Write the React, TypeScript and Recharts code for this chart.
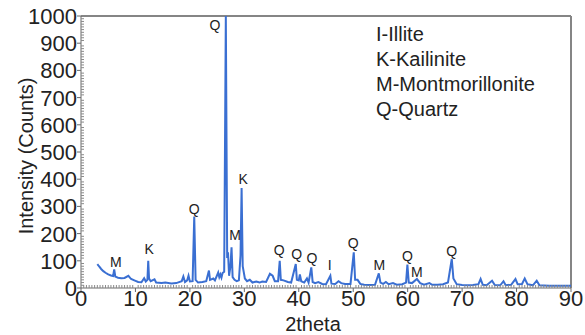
import { LineChart, Line, XAxis, YAxis, ReferenceLine, ReferenceDot } from "recharts";

// XRD pattern
const twoTheta = [
  3.0, 3.3, 3.7, 4.1, 4.5, 5.0, 5.5, 5.9, 6.1, 6.3, 6.8, 7.4, 8.0, 8.7, 9.2, 9.9, 10.5, 11.1, 11.6, 11.9,
  12.2, 12.35, 12.5, 12.8, 13.5, 13.8, 14.8, 15.5, 16.6, 17.5, 18.5, 18.8, 19.1, 19.5, 19.75, 20.0, 20.5, 20.8, 21.05, 21.5,
  22.3, 23.0, 23.5, 23.7, 24.3, 24.6, 25.2, 25.4, 25.6, 25.8, 26.0, 26.3, 26.6, 26.85, 27.0, 27.2, 27.45, 27.65, 27.85, 28.2,
  28.6, 29.0, 29.3, 29.5, 29.7, 30.1, 30.5, 31.0, 31.5, 32.2, 32.8, 33.3, 34.0, 34.7, 35.2, 35.6, 36.2, 36.5, 36.7, 37.2,
  38.0, 38.6, 39.45, 39.65, 40.0, 40.2, 40.45, 41.0, 41.5, 41.8, 42.3, 42.55, 43.0, 43.6, 44.3, 45.0, 45.8, 46.0, 46.7, 47.3,
  47.8, 48.5, 49.5, 50.1, 50.35, 50.8, 51.3, 52.0, 53.0, 54.0, 54.7, 55.0, 55.5, 56.0, 56.5, 57.3, 58.0, 59.0, 59.7, 59.95,
  60.2, 60.8, 61.7, 62.3, 63.0, 64.0, 64.5, 65.5, 66.5, 67.4, 67.7, 68.1, 68.4, 69.0, 70.0, 71.0, 72.0, 73.0, 73.4, 73.8,
  74.5, 75.5, 76.0, 77.0, 77.6, 78.0, 79.0, 79.8, 80.2, 81.0, 81.5, 82.0, 83.0, 83.7, 84.2, 85.0, 86.0, 87.5, 90.0,
];
const counts = [
  88, 80, 70, 62, 56, 50, 46, 44, 68, 42, 38, 36, 37, 45, 33, 27, 22, 21, 36, 24,
  30, 100, 35, 25, 32, 20, 18, 20, 17, 18, 25, 42, 22, 28, 45, 24, 25, 263, 30, 20,
  22, 25, 64, 30, 35, 28, 57, 40, 50, 38, 55, 60, 1000, 110, 131, 45, 80, 150, 40, 30,
  25, 28, 120, 368, 80, 35, 25, 30, 20, 24, 20, 24, 22, 52, 45, 25, 25, 100, 30, 28,
  22, 20, 88, 30, 28, 50, 25, 20, 35, 20, 76, 22, 18, 22, 15, 14, 45, 16, 15, 25,
  18, 15, 15, 131, 30, 30, 15, 12, 11, 12, 54, 20, 15, 22, 14, 18, 12, 14, 20, 86,
  20, 18, 33, 18, 12, 18, 12, 12, 14, 20, 57, 107, 35, 14, 11, 10, 11, 14, 33, 12,
  10, 27, 11, 10, 25, 10, 12, 33, 14, 15, 35, 14, 10, 27, 10, 9, 8, 8, 8,
];

// peak annotations
const peakLetters = ["M", "K", "Q", "Q", "M", "K", "Q", "Q", "Q", "I", "Q", "M", "Q", "M", "Q"];
const peakTheta = [6.4, 12.5, 20.8, 24.6, 28.3, 29.8, 36.4, 39.6, 42.4, 45.7, 50.0, 54.8, 59.95, 61.7, 68.1];
const peakLabelY = [94, 143, 290, 967, 193, 402, 140, 125, 109, 85, 166, 85, 119, 58, 137];

const legendLines = ["I-Illite", "K-Kailinite", "M-Montmorillonite", "Q-Quartz"];

const xMajor = [0, 10, 20, 30, 40, 50, 60, 70, 80, 90];
const yMajor = [0, 100, 200, 300, 400, 500, 600, 700, 800, 900, 1000];

const xTicks: number[] = [];
for (let i = 0; i <= 180; i++) xTicks.push(i / 2);
const yTicks: number[] = [];
for (let i = 0; i <= 100; i++) yTicks.push(i * 10);

const data = twoTheta.map((t, i) => ({ t, c: counts[i] }));

const FONT = "'Liberation Sans', Arial, sans-serif";
const AXIS = "#6b6b6b";

function XTick({ x, y, payload }: any) {
  const v = payload.value;
  const major = xMajor.includes(v);
  return (
    <g>
      {major ? (
        <line x1={x} x2={x} y1={y} y2={y + 4} stroke={AXIS} />
      ) : (
        <line x1={x} x2={x} y1={y} y2={y - 3} stroke="#8a8a8a" />
      )}
      {major && (
        <text x={x} y={y + 18} textAnchor="middle" fontSize={22} fill="#222" fontFamily={FONT}>
          {v}
        </text>
      )}
    </g>
  );
}

function YTick({ x, y, payload }: any) {
  const v = payload.value;
  const major = yMajor.includes(v);
  return (
    <g>
      {major ? (
        <line x1={x} x2={x - 4} y1={y} y2={y} stroke={AXIS} />
      ) : (
        <line x1={x} x2={x + 3} y1={y} y2={y} stroke="#8a8a8a" />
      )}
      {major && (
        <text x={x - 4} y={y + 8} textAnchor="end" fontSize={22} fill="#222" fontFamily={FONT}>
          {v}
        </text>
      )}
    </g>
  );
}

export default function App() {
  return (
    <div style={{ position: "absolute", top: 0, left: 0, width: 585, height: 335, background: "#fff" }}>
      <LineChart width={585} height={335} data={data} margin={{ top: 16, right: 14, bottom: 0, left: 0 }}>
        <XAxis
          dataKey="t"
          type="number"
          domain={[0, 90]}
          ticks={xTicks}
          interval={0}
          height={47}
          tickSize={0}
          tickMargin={0}
          tickLine={false}
          tick={<XTick />}
          stroke={AXIS}
          label={{ value: "2theta", position: "insideBottom", offset: 4, dx: -13, fontSize: 20, fill: "#222", fontFamily: FONT }}
        />
        <YAxis
          type="number"
          domain={[0, 1000]}
          allowDataOverflow
          ticks={yTicks}
          interval={0}
          width={81}
          tickSize={0}
          tickMargin={0}
          tickLine={false}
          tick={<YTick />}
          stroke={AXIS}
          label={{ value: "Intensity (Counts)", angle: -90, position: "center", dx: -15, dy: 4, fontSize: 20, fill: "#222", fontFamily: FONT }}
        />
        <ReferenceLine y={1000} stroke="#858585" strokeWidth={2} />
        <ReferenceLine x={90} stroke="#858585" strokeWidth={2} />
        <Line
          type="linear"
          dataKey="c"
          stroke="#3A6FD2"
          strokeWidth={2}
          dot={false}
          isAnimationActive={false}
        />
        {peakLetters.map((l, i) => (
          <ReferenceDot
            key={i}
            x={peakTheta[i]}
            y={peakLabelY[i]}
            r={0}
            stroke="none"
            label={{ value: l, position: "center", fontSize: 14, fill: "#222", fontFamily: FONT }}
          />
        ))}
      </LineChart>
      <div
        style={{
          position: "absolute",
          left: 376,
          top: 22,
          fontFamily: FONT,
          fontSize: 20,
          lineHeight: "25px",
          color: "#222",
        }}
      >
        {legendLines.map((s) => (
          <div key={s}>{s}</div>
        ))}
      </div>
    </div>
  );
}
